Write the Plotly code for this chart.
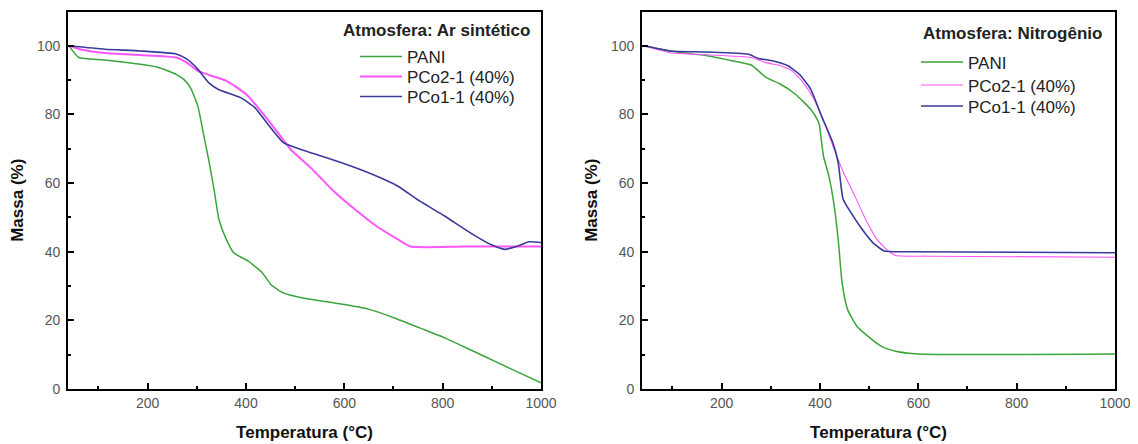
import plotly.graph_objects as go
from plotly.subplots import make_subplots

# ---- Data: Atmosfera: Ar sintético (left) ----
ar_pani_t = [40, 60, 113, 185, 222, 258, 273, 287, 302, 313, 324, 335, 345, 360, 375, 404, 433, 451, 476, 513, 600, 651, 702, 753, 804, 855, 913, 1000]
ar_pani_m = [100, 96.6, 95.9, 94.6, 93.7, 91.7, 90.3, 87.8, 82.5, 74.7, 66.9, 58.2, 49.4, 43.6, 39.7, 37.3, 33.9, 30.4, 28.0, 26.6, 24.6, 23.2, 20.7, 17.8, 14.9, 11.5, 7.6, 1.8]

ar_pco2_t = [40, 62, 113, 185, 258, 280, 302, 331, 360, 382, 404, 433, 462, 491, 535, 578, 622, 665, 709, 735, 840, 1000]
ar_pco2_m = [100, 99, 97.9, 97.3, 96.6, 95.1, 92.7, 91.2, 89.8, 87.8, 85.4, 80.5, 75.2, 69.8, 64.0, 57.7, 52.3, 47.5, 43.6, 41.5, 41.5, 41.5]

ar_pco1_t = [40, 113, 185, 258, 280, 302, 324, 345, 389, 418, 447, 476, 520, 593, 658, 709, 753, 804, 825, 862, 898, 926, 950, 976, 1000]
ar_pco1_m = [100, 99, 98.5, 97.6, 96.1, 93.2, 89.3, 87.2, 84.9, 82.0, 76.7, 71.8, 69.4, 66.0, 62.5, 59.1, 54.8, 50.4, 48.4, 45.0, 42.1, 40.7, 41.5, 42.9, 42.7]

# ---- Data: Atmosfera: Nitrogênio (right) ----
n2_pani_t = [42, 95, 170, 223, 260, 275, 290, 320, 350, 381, 396, 399, 407, 418, 429, 437, 445, 456, 475, 493, 524, 554, 599, 1000]
n2_pani_m = [100, 98.5, 97.1, 95.6, 94.4, 92.7, 90.8, 88.8, 85.9, 81.5, 78.1, 76.7, 67.9, 62.1, 53.3, 43.6, 30.9, 23.2, 18.3, 15.9, 12.5, 11.0, 10.2, 10.2]

n2_pco2_t = [42, 95, 170, 260, 290, 320, 343, 366, 388, 411, 429, 448, 471, 493, 516, 539, 554, 621, 1000]
n2_pco2_m = [100, 98, 97.4, 96.6, 95.1, 94.2, 92.7, 89.3, 84.4, 76.7, 69.8, 63.0, 56.2, 49.4, 43.6, 40.2, 38.9, 38.7, 38.4]

n2_pco1_t = [42, 95, 170, 253, 275, 305, 335, 358, 381, 403, 426, 437, 447, 463, 486, 508, 531, 584, 1000]
n2_pco1_m = [100, 98.5, 98.2, 97.6, 96.3, 95.6, 94.2, 91.7, 87.4, 79.6, 71.8, 66.0, 55.3, 51.4, 46.5, 42.6, 40.2, 40.0, 39.7]

series_names = ["PANI", "PCo2-1 (40%)", "PCo1-1 (40%)"]
legend_titles = ["Atmosfera: Ar sintético", "Atmosfera: Nitrogênio"]
x_title = "Temperatura (°C)"
y_title = "Massa (%)"
x_ticks = [200, 400, 600, 800, 1000]
x_minor = [100, 300, 500, 700, 900]
y_ticks = [0, 20, 40, 60, 80, 100]
y_minor = [10, 30, 50, 70, 90]

colors = ["#3aa53a", "#ff55ff", "#3a3a9a"]
FONT = "Liberation Sans, Arial, sans-serif"

# The page body has an 8px margin; the figure is sized so it fills the window.
OFF = 8
W, H = 1138 - OFF, 444 - OFF


def fx(px):
    return (px - OFF) / W


def fy(py):
    return 1 - (py - OFF) / H


fig = make_subplots(rows=1, cols=2)

left = [(ar_pani_t, ar_pani_m), (ar_pco2_t, ar_pco2_m), (ar_pco1_t, ar_pco1_m)]
right = [(n2_pani_t, n2_pani_m), (n2_pco2_t, n2_pco2_m), (n2_pco1_t, n2_pco1_m)]
widths_left = [1.5, 2, 1.6]
widths_right = [1.5, 1.1, 1.6]

# one legend box per entry so each entry sits exactly where it does in the reference
left_legend_ids = ["legend", "legend2", "legend3"]
right_legend_ids = ["legend4", "legend5", "legend6"]
left_item_tops = [39, 59, 79]
right_item_tops = [44.5, 67.5, 88.5]

for i, (t, m) in enumerate(left):
    fig.add_trace(go.Scatter(x=t, y=m, mode="lines", name=series_names[i],
                             line=dict(color=colors[i], width=widths_left[i],
                                       shape="spline", smoothing=0.5),
                             legend=left_legend_ids[i], showlegend=True), row=1, col=1)
for i, (t, m) in enumerate(right):
    fig.add_trace(go.Scatter(x=t, y=m, mode="lines", name=series_names[i],
                             line=dict(color=colors[i], width=widths_right[i],
                                       shape="spline", smoothing=0.5),
                             legend=right_legend_ids[i], showlegend=True), row=1, col=2)

xdom1 = [fx(68), fx(541)]
xdom2 = [fx(642), fx(1115)]
ydom = [fy(389), fy(11.5)]

axis_common = dict(
    showgrid=False, zeroline=False, showline=True, linecolor="black", linewidth=1.6,
    mirror=True, ticks="inside", ticklen=6, tickwidth=1.6, tickcolor="black",
    tickfont=dict(family=FONT, size=14, color="#555"), automargin=False,
)

for k, dom in ((1, xdom1), (2, xdom2)):
    xa = "xaxis" if k == 1 else "xaxis2"
    ya = "yaxis" if k == 1 else "yaxis2"
    fig.update_layout(**{
        xa: dict(axis_common, domain=dom, range=[38, 1000], tickvals=x_ticks,
                 ticklabelstandoff=0,
                 minor=dict(tickvals=x_minor, ticks="inside", ticklen=3,
                            tickwidth=1.6, tickcolor="black"),
                 title=dict(text="<b>" + x_title + "</b>", standoff=17,
                            font=dict(family=FONT, size=17, color="#111"))),
        ya: dict(axis_common, domain=ydom, range=[0, 110], tickvals=y_ticks,
                 ticklabelstandoff=3,
                 minor=dict(tickvals=y_minor, ticks="inside", ticklen=3,
                            tickwidth=1.6, tickcolor="black"),
                 title=dict(text="<b>" + y_title + "</b>", standoff=9,
                            font=dict(family=FONT, size=17, color="#111"))),
    })

legend_common = dict(
    bgcolor="rgba(0,0,0,0)", borderwidth=0, xanchor="left", yanchor="top",
    font=dict(family=FONT, size=17, color="#222"), tracegroupgap=0, itemwidth=42,
)

legends = {}
for lid, top in zip(left_legend_ids, left_item_tops):
    legends[lid] = dict(legend_common, x=fx(355), y=fy(top))
for lid, top in zip(right_legend_ids, right_item_tops):
    legends[lid] = dict(legend_common, x=fx(916), y=fy(top))

fig.update_layout(
    width=W, height=H,
    margin=dict(l=0, r=0, t=0, b=0),
    paper_bgcolor="white", plot_bgcolor="white",
    font=dict(family=FONT),
    showlegend=True,
    annotations=[
        dict(text="<b>" + legend_titles[0] + "</b>", xref="paper", yref="paper",
             x=fx(341), y=fy(30), xanchor="left", yanchor="middle", showarrow=False,
             font=dict(family=FONT, size=17, color="#222")),
        dict(text="<b>" + legend_titles[1] + "</b>", xref="paper", yref="paper",
             x=fx(921), y=fy(33), xanchor="left", yanchor="middle", showarrow=False,
             font=dict(family=FONT, size=17, color="#222")),
    ],
    **legends,
)

fig.write_html("out.html")
